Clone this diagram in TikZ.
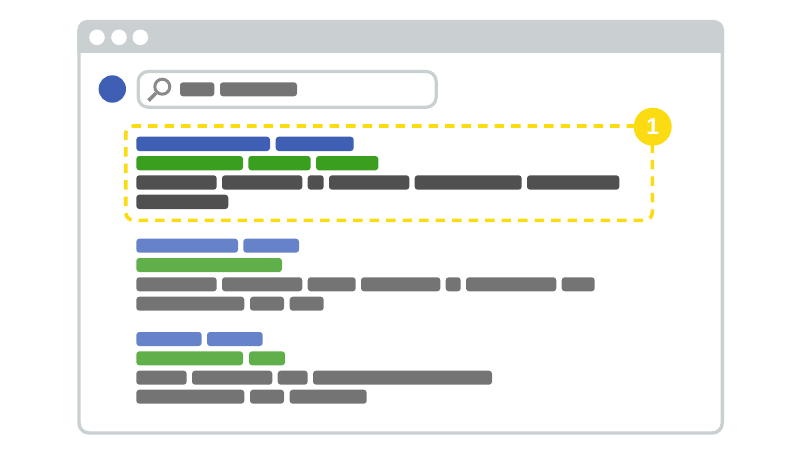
\documentclass[tikz,border=0pt]{standalone}
\usepackage{fontspec}
\setsansfont{Liberation Sans}
\definecolor{framegray}{HTML}{CACFD2}
\definecolor{iconblue}{HTML}{3F5FB5}
\definecolor{topblue}{HTML}{3F5FB5}
\definecolor{topgreen}{HTML}{3A9E1E}
\definecolor{topgray}{HTML}{505050}
\definecolor{softblue}{HTML}{6682C8}
\definecolor{softgreen}{HTML}{5FB04A}
\definecolor{softgray}{HTML}{747474}
\definecolor{lensgray}{HTML}{8A8A8A}
\definecolor{markyellow}{HTML}{FBDC12}
\tikzset{
  barbox/.style={rounded corners=3pt},
  framebox/.style={draw=framegray,line width=3.4pt,rounded corners=10pt},
  markbox/.style={draw=markyellow,line width=3.6pt,rounded corners=8pt,dash pattern=on 9.5pt off 7pt},
  badge/.style={circle,fill=markyellow,text=white,inner sep=0pt,minimum size=38pt,font=\sffamily\bfseries\fontsize{23}{23}\selectfont},
}
\begin{document}
\begin{tikzpicture}[x=1pt,y=-1pt]
\useasboundingbox (0,0) rectangle (800,460);

% Window frame and title bar.
\draw[framebox] (79,30) -- (79,433) -- (722.3,433) -- (722.3,30);
\fill[framegray] (77.3,53) {[rounded corners=10pt] -- (77.3,20) -- (724,20)} -- (724,53) -- cycle;
\fill[white] (97,37.3) circle (7.8);
\fill[white] (119,37.3) circle (7.8);
\fill[white] (140.3,37.3) circle (7.8);

% Search row.
\fill[iconblue] (112.3,89) circle (13.7);
\draw[framebox,line width=3.2pt] (138.2,71.5) rectangle (436.2,107.2);
\draw[lensgray,line width=3pt] (162.3,86.7) circle (7.5);
\draw[lensgray,line width=3.6pt] (156,93.2) -- (148.5,100.5);
\fill[barbox,softgray] (180,82.3) rectangle (214.3,96.3);
\fill[barbox,softgray] (220,82.3) rectangle (297,96.3);

% First result.
\fill[barbox,topblue] (136.3,136.7) rectangle (270,151);
\fill[barbox,topblue] (275.7,136.7) rectangle (353.7,151);
\fill[barbox,topgreen] (136.3,156) rectangle (243,170.3);
\fill[barbox,topgreen] (248.3,156) rectangle (310.7,170.3);
\fill[barbox,topgreen] (316,156) rectangle (378.3,170.3);
\fill[barbox,topgray] (136.3,175.3) rectangle (216.7,189.7);
\fill[barbox,topgray] (222,175.3) rectangle (302.3,189.7);
\fill[barbox,topgray] (307.7,175.3) rectangle (323.7,189.7);
\fill[barbox,topgray] (329,175.3) rectangle (409.3,189.7);
\fill[barbox,topgray] (414.7,175.3) rectangle (521.7,189.7);
\fill[barbox,topgray] (527,175.3) rectangle (619.3,189.7);
\fill[barbox,topgray] (136.3,194.7) rectangle (228.3,209);

% Second result.
\fill[barbox,softblue] (136.3,238.7) rectangle (238,252.7);
\fill[barbox,softblue] (243.3,238.7) rectangle (299,252.7);
\fill[barbox,softgreen] (136.3,258) rectangle (282,272);
\fill[barbox,softgray] (136.3,277.3) rectangle (216.7,291.3);
\fill[barbox,softgray] (222,277.3) rectangle (302.3,291.3);
\fill[barbox,softgray] (307.7,277.3) rectangle (355.7,291.3);
\fill[barbox,softgray] (361,277.3) rectangle (440.3,291.3);
\fill[barbox,softgray] (445.7,277.3) rectangle (460.7,291.3);
\fill[barbox,softgray] (466,277.3) rectangle (556.3,291.3);
\fill[barbox,softgray] (561.7,277.3) rectangle (594.7,291.3);
\fill[barbox,softgray] (136.3,296.7) rectangle (244.3,310.7);
\fill[barbox,softgray] (250,296.7) rectangle (284,310.7);
\fill[barbox,softgray] (289.7,296.7) rectangle (323.7,310.7);

% Third result.
\fill[barbox,softblue] (136.3,332) rectangle (201.7,346);
\fill[barbox,softblue] (207,332) rectangle (262.7,346);
\fill[barbox,softgreen] (136.3,351.3) rectangle (243,365.3);
\fill[barbox,softgreen] (249,351.3) rectangle (285,365.3);
\fill[barbox,softgray] (136.3,370.7) rectangle (186.7,384.7);
\fill[barbox,softgray] (192,370.7) rectangle (272.3,384.7);
\fill[barbox,softgray] (277.7,370.7) rectangle (307.7,384.7);
\fill[barbox,softgray] (313,370.7) rectangle (492,384.7);
\fill[barbox,softgray] (136.3,389.7) rectangle (244.3,403.7);
\fill[barbox,softgray] (250,389.7) rectangle (284,403.7);
\fill[barbox,softgray] (289.7,389.7) rectangle (366.7,403.7);

% Dashed mark round the first result, with its number.
\draw[markbox] (636,126) -- (125.7,126) -- (125.7,220.3) -- (652.3,220.3) -- (652.3,140);
\node[badge] (one) at (652.7,126.7) {1};

\end{tikzpicture}
\end{document}
